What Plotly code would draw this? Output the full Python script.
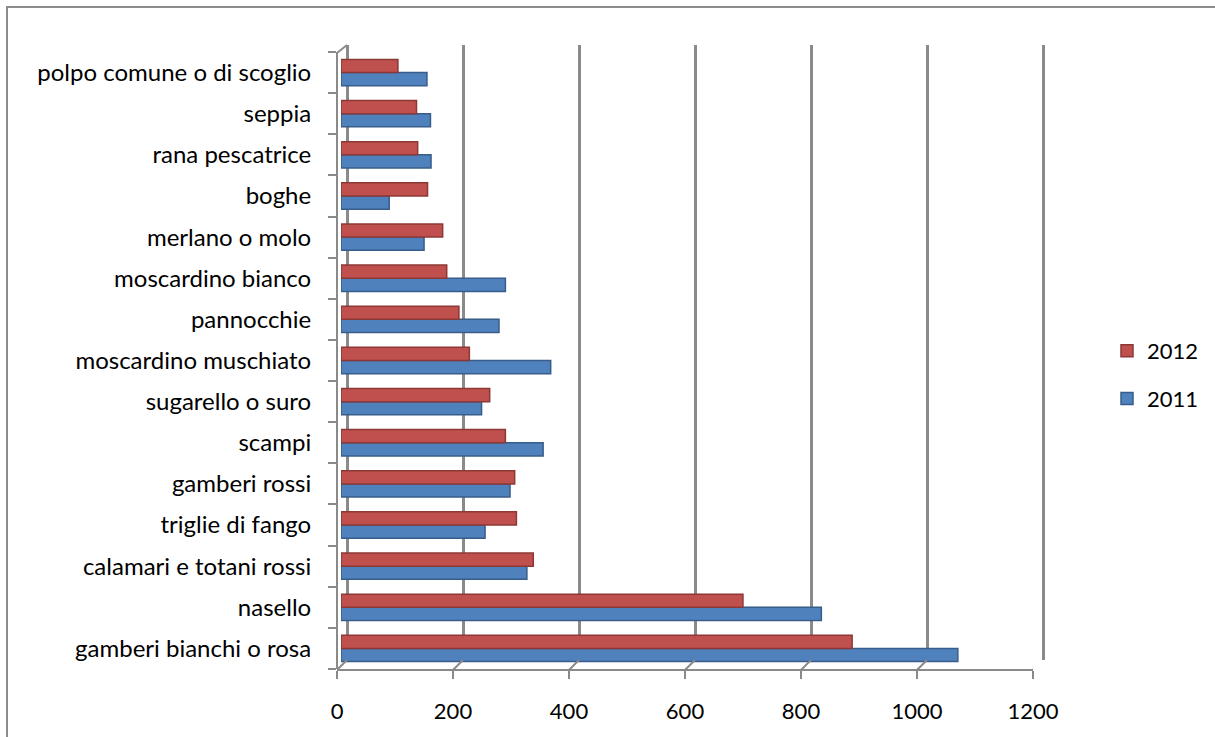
import plotly.graph_objects as go

# Species, listed bottom to top along the category axis
species = [
    "gamberi bianchi o rosa",
    "nasello",
    "calamari e totani rossi",
    "triglie di fango",
    "gamberi rossi",
    "scampi",
    "sugarello o suro",
    "moscardino muschiato",
    "pannocchie",
    "moscardino bianco",
    "merlano o molo",
    "boghe",
    "rana pescatrice",
    "seppia",
    "polpo comune o di scoglio",
]
values_2011 = [1062, 827, 320, 248, 291, 348, 242, 361, 272, 283, 143, 83, 155, 154, 148]
values_2012 = [880, 692, 331, 302, 299, 283, 256, 221, 203, 182, 175, 149, 132, 130, 98]
x_ticks = [0, 200, 400, 600, 800, 1000, 1200]

W, H = 1215, 737
FONT = "Lato, Carlito, Calibri, sans-serif"
GRID = "#8a8a8a"


def px_x(p):
    return p / W


def px_y(p):
    return 1 - p / H


fig = go.Figure()

# empty trace that hosts the back-wall grid subplot (drawn before the bars)
fig.add_trace(go.Scatter(x=[None], y=[None], xaxis="x2", yaxis="y2",
                         showlegend=False, hoverinfo="skip"))
fig.add_trace(go.Bar(
    y=species, x=values_2011, orientation="h", name="2011",
    xaxis="x3", yaxis="y", legendgroup="g2011", legendrank=2,
    marker=dict(color="#4F81BD", line=dict(color="#385D8A", width=1.5)),
))
fig.add_trace(go.Bar(
    y=species, x=values_2012, orientation="h", name="2012",
    xaxis="x3", yaxis="y", legendgroup="g2012", legendrank=1,
    marker=dict(color="#C0504D", line=dict(color="#8C3836", width=1.5)),
))

floor_y = px_y(670)

# small diagonals joining the front floor ticks to the back wall gridlines
shapes = [
    dict(type="line", xref="x", yref="paper", xsizemode="pixel", ysizemode="pixel",
         xanchor=v, yanchor=floor_y, x0=0, x1=10, y0=0, y1=10,
         line=dict(color=GRID, width=2))
    for v in x_ticks
]
# top-left corner of the side wall
shapes.append(dict(type="line", xref="paper", yref="paper",
                   x0=px_x(337), x1=px_x(347), y0=px_y(53), y1=px_y(45),
                   line=dict(color=GRID, width=2)))
# chart frame
shapes.append(dict(type="rect", xref="paper", yref="paper",
                   x0=px_x(7), x1=1.05, y0=-0.05, y1=px_y(7),
                   line=dict(color="#8c8c8c", width=2), fillcolor="rgba(0,0,0,0)"))

# back-wall scale: 0 at 347 px and 1200 at 1043 px, padded so the edge gridlines show
wall_left, wall_right = 345, 1045
units_per_px = 1200 / (1043 - 347)
wall_range = [-(347 - wall_left) * units_per_px, 1200 + (wall_right - 1043) * units_per_px]

fig.update_layout(
    width=W, height=H,
    margin=dict(l=0, r=0, t=0, b=0, autoexpand=False),
    paper_bgcolor="white", plot_bgcolor="rgba(0,0,0,0)",
    font=dict(family=FONT, size=22, color="#000000"),
    barmode="group", bargap=0.36, bargroupgap=0.0,
    showlegend=True,
    legend=dict(x=px_x(1107), y=px_y(330), xanchor="left", yanchor="top",
                traceorder="grouped", tracegroupgap=16,
                font=dict(family=FONT, size=22), bgcolor="rgba(0,0,0,0)"),
    # category axis (left)
    yaxis=dict(domain=[px_y(669), px_y(52)], anchor="free", position=px_x(337),
               type="category", categoryorder="array", categoryarray=species,
               tickfont=dict(size=24),
               showline=True, linecolor=GRID, linewidth=2,
               ticks="outside", tickson="boundaries", ticklen=8, tickcolor=GRID, tickwidth=2,
               showgrid=False, ticklabelstandoff=20, fixedrange=True),
    # value scale used by the bars
    xaxis3=dict(domain=[px_x(341), px_x(1038)], range=[0, 1200], anchor="y",
                visible=False, fixedrange=True),
    # front floor edge with the value labels
    xaxis=dict(domain=[px_x(337), px_x(1033)], range=[0, 1200], anchor="free", position=floor_y,
               tickvals=x_ticks, showline=True, linecolor=GRID, linewidth=2,
               ticks="outside", ticklen=8, tickcolor=GRID, tickwidth=2,
               showgrid=False, zeroline=False, ticklabelstandoff=14, fixedrange=True),
    # back wall gridlines
    xaxis2=dict(domain=[px_x(wall_left), px_x(wall_right)], range=wall_range, anchor="y2",
                tickvals=x_ticks, showgrid=True, gridcolor=GRID, gridwidth=3,
                showticklabels=False, ticks="", showline=False, zeroline=False, fixedrange=True),
    yaxis2=dict(domain=[px_y(660), px_y(45)], range=[0, 1], anchor="x2",
                visible=False, fixedrange=True),
    shapes=shapes,
)

fig.write_html("out.html")
